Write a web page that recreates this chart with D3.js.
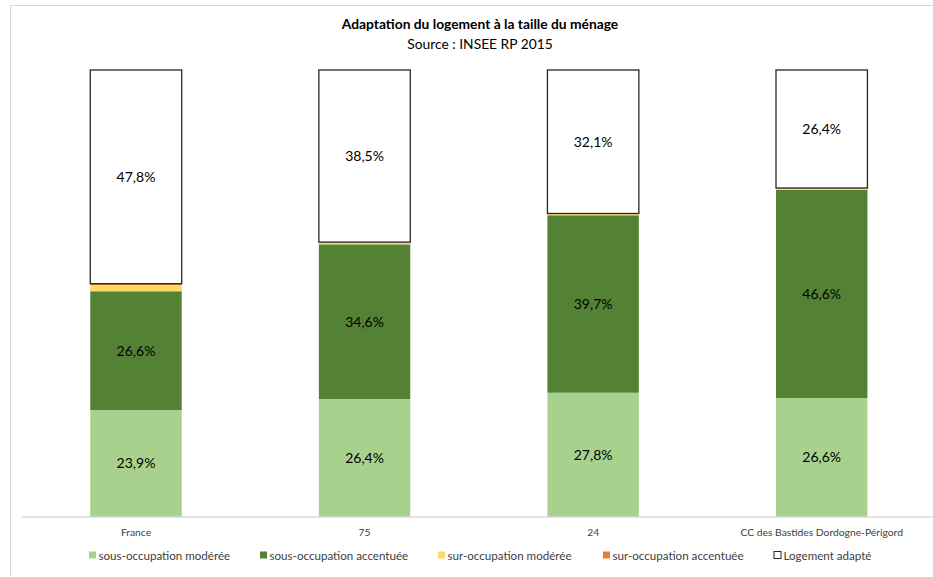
<!DOCTYPE html>
<html>
<head>
<meta charset="utf-8">
<script src="https://cdn.jsdelivr.net/npm/d3@7"></script>
<style>
  html, body { margin: 0; padding: 0; background: #fff; }
  svg { display: block; font-family: Lato, "Open Sans", sans-serif; }
</style>
</head>
<body>
<svg id="chart" width="933" height="577"></svg>
<script>
// Territories compared
const categories = ["France", "75", "24", "CC des Bastides Dordogne-Périgord"];

// Share of households (%) per occupancy class
const sousModeree   = [23.9, 26.4, 27.8, 26.6];
const sousAccentuee = [26.6, 34.6, 39.7, 46.6];
const surModeree    = [1.4, 0.4, 0.3, 0.3];
const surAccentuee  = [0.3, 0.1, 0.1, 0.1];
const logementAdapte = [47.8, 38.5, 32.1, 26.4];

const seriesNames = ["sous-occupation modérée", "sous-occupation accentuée",
  "sur-occupation modérée", "sur-occupation accentuée", "Logement adapté"];
const seriesValues = [sousModeree, sousAccentuee, surModeree, surAccentuee, logementAdapte];
const labelled = [true, true, false, false, true];

const colors = ["#A9D18E", "#548235", "#FFD966", "#ED7D31", "#FFFFFF"];

const svg = d3.select("#chart");

// outer frame
svg.append("rect")
  .attr("x", 10.5).attr("y", 5.5)
  .attr("width", 940).attr("height", 600)
  .attr("fill", "none").attr("stroke", "#d9d9d9").attr("stroke-width", 1);

// titles
svg.append("text")
  .attr("x", 480).attr("y", 29)
  .attr("text-anchor", "middle")
  .attr("font-size", 13.8).attr("font-weight", "bold").attr("fill", "#000")
  .text("Adaptation du logement à la taille du ménage");
svg.append("text")
  .attr("x", 480).attr("y", 49)
  .attr("text-anchor", "middle")
  .attr("font-size", 13.8).attr("fill", "#000")
  .text("Source : INSEE RP 2015");

const x = d3.scaleBand()
  .domain(categories)
  .range([21.7, 936])
  .paddingInner(0.6)
  .paddingOuter(0.3);

const y = d3.scaleLinear().domain([0, 100]).range([517, 70]);

// build stacked table
const rows = categories.map((c, i) => {
  const r = { cat: c };
  seriesNames.forEach((s, k) => { r[s] = seriesValues[k][i]; });
  return r;
});
const stacked = d3.stack().keys(seriesNames)(rows);

const layers = svg.append("g").selectAll("g")
  .data(stacked)
  .join("g")
  .attr("fill", (d, i) => colors[i]);

layers.selectAll("rect")
  .data(d => d.map(v => ({ v, key: d.key })))
  .join("rect")
  .attr("x", d => x(d.v.data.cat))
  .attr("width", x.bandwidth())
  .attr("y", d => y(d.v[1]))
  .attr("height", d => y(d.v[0]) - y(d.v[1]))
  .attr("stroke", d => d.key === "Logement adapté" ? "#262626" : "none")
  .attr("stroke-width", 1.3);

// x axis
const axis = svg.append("g")
  .attr("transform", "translate(0,517)")
  .call(d3.axisBottom(x).tickSize(0).tickPadding(12));
axis.select(".domain").attr("stroke", "#d9d9d9").attr("stroke-width", 1.5)
  .attr("d", "M21.7,0H936");
axis.selectAll("text")
  .attr("font-family", "Lato, 'Open Sans', sans-serif")
  .attr("font-size", 10.3).attr("fill", "#404040");

// data labels
stacked.forEach((layer, k) => {
  if (!labelled[k]) return;
  svg.append("g").selectAll("text")
    .data(layer)
    .join("text")
    .attr("x", d => x(d.data.cat) + x.bandwidth() / 2)
    .attr("y", d => (y(d[0]) + y(d[1])) / 2)
    .attr("dy", "0.35em")
    .attr("text-anchor", "middle")
    .attr("font-size", 14).attr("fill", "#000")
    .text(d => d3.format(".1f")(d[1] - d[0]).replace(".", ",") + "%");
});

// legend
const legendX = [89, 260, 438, 603, 774];
const legend = svg.append("g").selectAll("g")
  .data(seriesNames)
  .join("g")
  .attr("transform", (d, i) => `translate(${legendX[i]},556)`);
legend.append("rect")
  .attr("x", 0).attr("y", -4.5)
  .attr("width", 7).attr("height", 7)
  .attr("fill", (d, i) => colors[i])
  .attr("stroke", (d, i) => i === 4 ? "#262626" : "none")
  .attr("stroke-width", 1);
legend.append("text")
  .attr("x", 9.5).attr("y", 0).attr("dy", "0.35em")
  .attr("font-size", 11.6).attr("fill", "#404040")
  .text(d => d);
</script>
</body>
</html>
